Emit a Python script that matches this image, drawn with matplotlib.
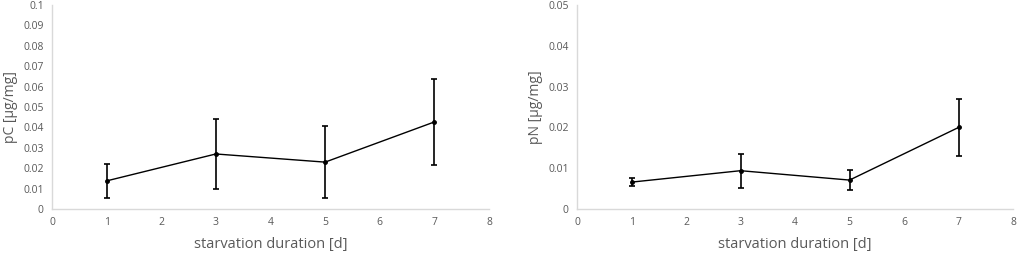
import matplotlib
matplotlib.use("Agg")
import matplotlib.pyplot as plt

days = [1, 3, 5, 7]

pc_mean = [0.0138, 0.027, 0.023, 0.0427]
pc_err = [0.0085, 0.017, 0.0175, 0.021]

pn_mean = [0.0066, 0.0094, 0.0071, 0.0200]
pn_err = [0.0010, 0.0042, 0.0025, 0.0069]

plt.rcParams['font.family'] = ['Open Sans', 'DejaVu Sans']

fig = plt.figure(figsize=(10.17, 2.54), dpi=100)
ax1 = fig.add_axes([0.0511, 0.177, 0.4297, 0.803])
ax2 = fig.add_axes([0.5674, 0.177, 0.4287, 0.803])

grey = '#595959'
spine = '#D9D9D9'


def style(ax, ymax, ystep, ylabel, yfmt):
    ax.set_xlim(0, 8)
    ax.set_ylim(0, ymax)
    ax.set_xticks(range(0, 9))
    n = int(round(ymax / ystep))
    ticks = [i * ystep for i in range(n + 1)]
    ax.set_yticks(ticks)
    ax.set_yticklabels(["0"] + [yfmt(t) for t in ticks[1:]])
    for s in ['top', 'right']:
        ax.spines[s].set_visible(False)
    for s in ['left', 'bottom']:
        ax.spines[s].set_color(spine)
        ax.spines[s].set_linewidth(1)
    ax.tick_params(length=0, labelsize=7.5, labelcolor=grey, pad=6)
    ax.set_xlabel("starvation duration [d]", fontsize=10.5, color=grey, labelpad=6)
    ax.set_ylabel(ylabel, fontsize=10, color=grey, labelpad=4)


ax1.errorbar(days, pc_mean, yerr=pc_err, color='black', lw=1, marker='o', ms=2.5,
             capsize=2, elinewidth=1.2, capthick=1.2, zorder=3, clip_on=False)
style(ax1, 0.1, 0.01, "pC [µg/mg]", lambda t: ("%.2f" % t).rstrip('0').rstrip('.'))

ax2.errorbar(days, pn_mean, yerr=pn_err, color='black', lw=1, marker='o', ms=2.5,
             capsize=2, elinewidth=1.2, capthick=1.2, zorder=3, clip_on=False)
style(ax2, 0.05, 0.01, "pN [µg/mg]", lambda t: ("%.2f" % t).rstrip('0').rstrip('.'))

fig.savefig("out.png", dpi=100)
